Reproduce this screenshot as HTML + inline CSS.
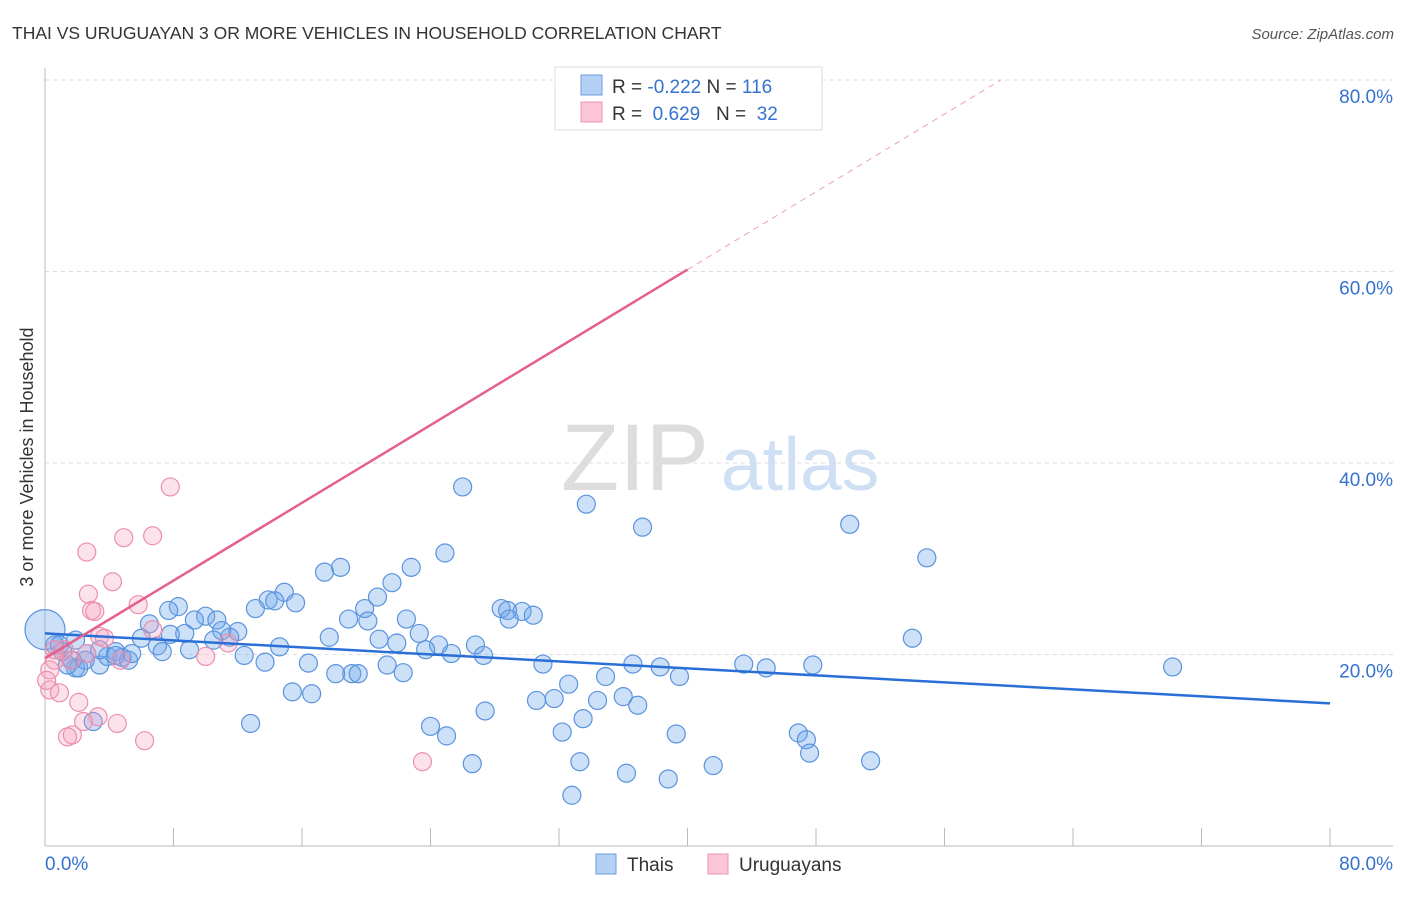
<!DOCTYPE html>
<html><head><meta charset="utf-8"><style>
body{margin:0;background:#fff;font-family:"Liberation Sans",sans-serif;}
svg text{font-family:"Liberation Sans",sans-serif;}
</style></head><body>
<svg id="c" width="1406" height="892">
<text x="12" y="39" font-size="17.5" fill="#333">THAI VS URUGUAYAN 3 OR MORE VEHICLES IN HOUSEHOLD CORRELATION CHART</text>
<text x="1394" y="39" font-size="15" fill="#555" font-style="italic" text-anchor="end">Source: ZipAtlas.com</text>
<text x="0" y="0" transform="translate(33,457) rotate(-90)" font-size="18" fill="#333" text-anchor="middle">3 or more Vehicles in Household</text>
<g><text x="635" y="490" font-size="95" fill="#ddd" font-family="Liberation Serif" text-anchor="middle">ZIP</text><text x="800" y="490" font-size="75" fill="#cfe0f5" text-anchor="middle">atlas</text></g>
<g id="grid"></g><g id="pts"></g><g id="lines"></g>
<g>
<rect x="555" y="67" width="267" height="63" fill="#fff" stroke="#ddd"/>
<rect x="581" y="75" width="21" height="20" fill="#b5d0f5" stroke="#6a9de0"/>
<rect x="581" y="102" width="21" height="20" fill="#fcc6d6" stroke="#eb97b0"/>
<text x="612" y="93" font-size="19" fill="#333">R = <tspan fill="#3572d0">-0.222</tspan>   N = <tspan fill="#3572d0">116</tspan></text>
<text x="612" y="120" font-size="19" fill="#333" xml:space="preserve">R =  <tspan fill="#3572d0">0.629</tspan>   N =  <tspan fill="#3572d0">32</tspan></text>
</g>
<g>
<rect x="596" y="854" width="20" height="20" fill="#b5d0f5" stroke="#6a9de0"/>
<text x="627" y="871" font-size="19" fill="#333">Thais</text>
<rect x="708" y="854" width="20" height="20" fill="#fcc6d6" stroke="#eb97b0"/>
<text x="739" y="871" font-size="19" fill="#333">Uruguayans</text>
</g>
</svg>
<script>
const blueX=[26.0,33.7,37.2,50.1,54.9,24.9,22.8,18.4,17.4,21.6,14.9,13.9,14.3,15.6,13.1,8.3,7.7,10.0,9.3,10.7,12.0,11.5,11.0,6.5,8.7,7.8,10.5,7.0,9.0,7.3,6.0,12.4,14.6,13.7,16.4,17.7,19.9,20.7,18.9,20.1,22.5,20.8,21.9,23.3,24.5,23.7,25.3,26.8,27.3,28.4,28.8,29.7,30.4,28.9,21.3,22.3,18.1,19.1,19.5,15.4,16.6,12.8,24.0,25.0,26.6,27.4,30.6,31.7,32.6,31.0,34.4,34.9,36.0,36.9,36.6,38.3,39.5,33.5,32.2,33.3,36.2,38.8,39.3,41.6,43.5,44.9,47.8,46.9,47.4,47.6,51.4,54.0,70.2,32.8,3.4,3.9,4.4,4.8,5.2,5.4,1.9,1.7,1.1,0.6,0.0,0.9,2.5,3.0,3.4,4.4,1.9,2.6,2.1,1.4];
const blueY=[37.5,35.7,33.3,33.6,30.1,30.6,29.1,29.1,28.6,27.5,26.5,25.7,25.6,25.4,24.8,25.0,24.6,24.0,23.6,23.6,22.4,21.8,22.5,23.2,22.2,22.1,21.5,20.9,20.5,20.3,21.7,19.9,20.8,19.2,19.1,21.8,24.8,26.0,23.7,23.5,23.7,21.6,21.2,22.2,21.0,20.5,20.1,21.0,19.9,24.8,24.6,24.5,24.1,23.7,18.9,18.1,18.0,18.0,18.0,16.1,15.9,12.8,12.5,11.5,8.6,14.1,15.2,15.4,16.9,19.0,15.2,17.7,15.6,14.7,19.0,18.7,17.7,13.3,11.9,8.8,7.6,7.0,11.7,8.4,19.0,18.6,18.9,11.8,11.1,9.7,8.9,21.7,18.7,5.3,18.9,19.8,20.3,19.7,19.4,20.1,18.6,19.4,20.3,21.0,22.6,21.0,19.4,13.0,20.5,19.9,21.5,20.1,18.6,18.9];
const pinkX=[7.8,2.6,4.9,6.7,4.2,2.7,2.9,3.1,5.8,6.7,3.4,3.7,2.6,1.2,0.6,0.3,0.3,0.9,2.1,3.3,2.4,1.7,1.4,4.5,6.2,23.5,11.4,10.0,4.7,0.6,1.6,0.1];
const pinkY=[37.5,30.7,32.2,32.4,27.6,26.3,24.6,24.5,25.2,22.6,21.9,21.7,20.1,20.5,19.4,18.4,16.3,16.0,15.0,13.5,13.0,11.6,11.4,12.8,11.0,8.8,21.2,19.8,19.4,20.5,19.4,17.3];
const yTicks=[20,40,60,80];
const blueTrend=[22.2,14.9]; // at x=0 and x=80
const pinkTrend=[19.6,1.015]; // intercept, slope
const NS='http://www.w3.org/2000/svg';
const X=v=>45+v*1285/80, Y=v=>846-v*9.575;
function mk(t,a,p){const e=document.createElementNS(NS,t);for(const k in a)e.setAttribute(k,a[k]);p.appendChild(e);return e;}
const g=document.getElementById('grid'),P=document.getElementById('pts'),L=document.getElementById('lines');
yTicks.forEach(t=>{const l=mk('line',{x1:45,x2:1393,y1:Y(t),y2:Y(t),stroke:'#ddd','stroke-dasharray':'4,4'},g);


const tx=mk('text',{x:1393,y:Y(t)+23,'font-size':19,fill:'#3572d0','text-anchor':'end'},g);tx.textContent=t.toFixed(1)+'%';

});
mk('line',{x1:45,x2:45,y1:68,y2:846,stroke:'#bbb'},g);
mk('line',{x1:45,x2:1393,y1:846,y2:846,stroke:'#bbb'},g);
for(let i=0;i<=10;i++){mk('line',{x1:X(i*8),x2:X(i*8),y1:828,y2:846,stroke:'#bbb'},g);}
[['0.0%',45,'start'],['80.0%',1393,'end']].forEach(a=>{const t=mk('text',{x:a[1],y:870,'font-size':19,fill:'#3572d0','text-anchor':a[2]},g);t.textContent=a[0];

});
blueX.forEach((x,i)=>{const c=mk('circle',{cx:X(x),cy:Y(blueY[i]),r:(x===0?20:9),fill:'rgba(110,165,235,0.35)',stroke:'#5b93dd','stroke-width':1.2},P);

});
pinkX.forEach((x,i)=>{const c=mk('circle',{cx:X(x),cy:Y(pinkY[i]),r:9,fill:'rgba(245,160,190,0.3)',stroke:'#eb8fae','stroke-width':1.2},P);

});
let l1=mk('line',{x1:X(0),y1:Y(blueTrend[0]),x2:X(80),y2:Y(blueTrend[1]),stroke:'#2a6fd6','stroke-width':2.5},L);


const xe=(80-pinkTrend[0])/pinkTrend[1];
let l2=mk('line',{x1:X(0),y1:Y(pinkTrend[0]),x2:X(40),y2:Y(pinkTrend[0]+40*pinkTrend[1]),stroke:'#e5608c','stroke-width':2.5},L);


let l3=mk('line',{x1:X(40),y1:Y(pinkTrend[0]+40*pinkTrend[1]),x2:X(xe),y2:Y(80),stroke:'#eba0b8','stroke-width':1,'stroke-dasharray':'6,5'},L);


</script>
</body></html>
